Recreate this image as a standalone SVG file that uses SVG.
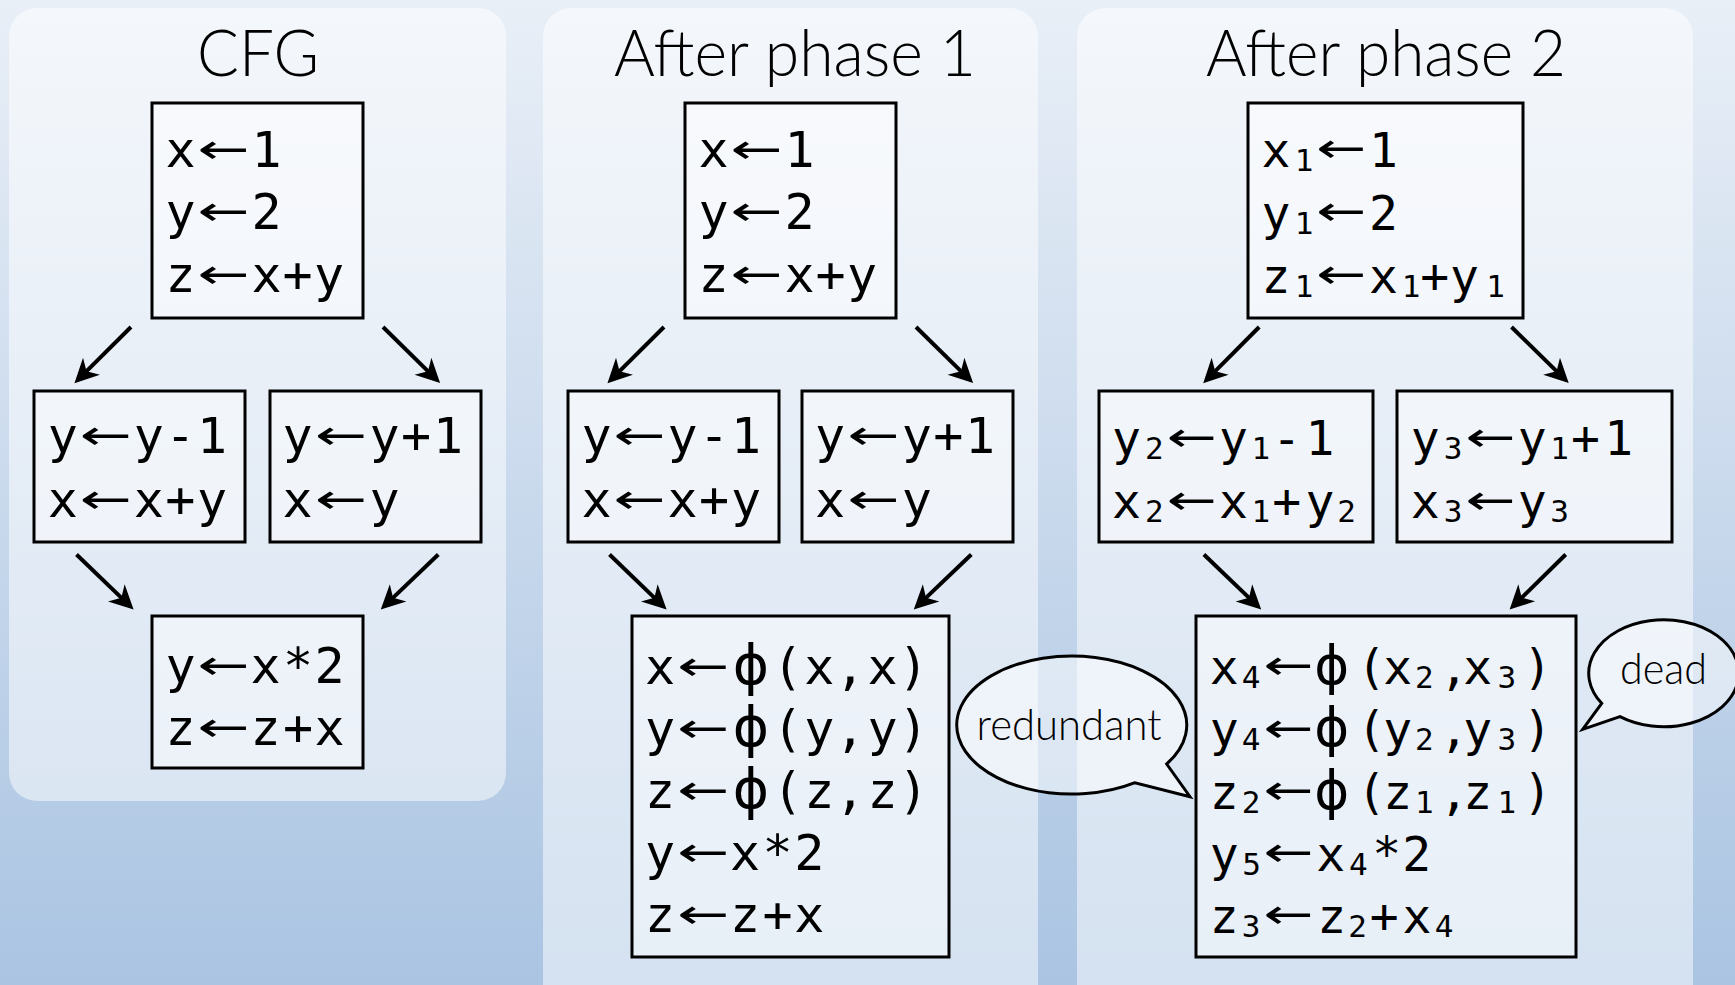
<svg xmlns="http://www.w3.org/2000/svg" width="1735" height="985" viewBox="0 0 1735 985">
<defs>
<linearGradient id="bg" x1="0" y1="0" x2="0" y2="1">
<stop offset="0" stop-color="#e9eff7"/>
<stop offset="1" stop-color="#aac4e2"/>
</linearGradient>
<marker id="ah" viewBox="-26 -14 28 28" refX="-15" refY="0" markerWidth="28" markerHeight="28" markerUnits="userSpaceOnUse" orient="auto">
<path d="M0,0 L-24,-12 L-17,0 L-24,12 Z" fill="#000"/>
</marker>
<style>
.panel{fill:#fff;fill-opacity:0.5}
.box{fill:#fff;fill-opacity:0.45;stroke:#000;stroke-width:3}
.bub{fill:#fff;fill-opacity:0.5;stroke:#000;stroke-width:3;stroke-linejoin:miter}
.title{font-family:Lato,"Open Sans",sans-serif;font-weight:300;font-size:66px;text-anchor:middle;fill:#000}
.note{font-family:Lato,"Open Sans",sans-serif;font-weight:300;font-size:44px;text-anchor:middle;fill:#000}
.c1{font-family:"DejaVu Sans Mono",monospace;font-size:50px;text-anchor:middle;fill:#000}
.c2{font-family:"DejaVu Sans Mono",monospace;font-size:48px;text-anchor:middle;fill:#000}
.sb{font-size:31px}
.ph{font-family:"DejaVu Sans",sans-serif;font-size:55px}
.ph2{font-family:"DejaVu Sans",sans-serif;font-size:53px}
.ar{font-family:"DejaVu Sans",sans-serif;font-size:41px}
.conn path{fill:none;stroke:#000;stroke-width:4;marker-end:url(#ah)}
</style>
</defs>
<rect x="0" y="0" width="1735" height="985" fill="url(#bg)"/>

<g id="panel-cfg">
<rect class="panel" x="9" y="8" width="497" height="793" rx="28"/>
<text class="title" x="258" y="76" textLength="122" lengthAdjust="spacingAndGlyphs">CFG</text>
</g>
<g id="panel-phase1">
<rect class="panel" x="543" y="8" width="495" height="1010" rx="28"/>
<text class="title" x="795" y="76" textLength="362" lengthAdjust="spacingAndGlyphs">After phase 1</text>
</g>
<g id="panel-phase2">
<rect class="panel" x="1077" y="8" width="616" height="1010" rx="28"/>
<text class="title" x="1386" y="76" textLength="360" lengthAdjust="spacingAndGlyphs">After phase 2</text>
</g>

<g class="conn" id="connectors">
<path d="M131,327 L85.1,372.6"/>
<path d="M383,327 L429.4,372.6"/>
<path d="M76.5,554.5 L122.8,599.1"/>
<path d="M438.3,554.5 L391.6,599.1"/>
<path d="M664,327 L618.1,372.6"/>
<path d="M916,327 L962.4,372.6"/>
<path d="M609.5,554.5 L655.8,599.1"/>
<path d="M971.3,554.5 L924.6,599.1"/>
<path d="M1259.2,327 L1213.8,372.6"/>
<path d="M1511.5,327 L1558,372.6"/>
<path d="M1203.9,554.5 L1250.4,599.1"/>
<path d="M1565.7,554.5 L1520.3,599.1"/>
</g>

<g id="cfg-entry">
<rect class="box" x="152" y="103" width="211" height="215"/>
<text class="c1"><tspan x="180.5" y="166.7">x</tspan><tspan class="ar" x="223.5" y="162.7" textLength="52" lengthAdjust="spacingAndGlyphs">←</tspan><tspan x="266.5" y="166.7">1</tspan></text>
<text class="c1"><tspan x="180.5" y="229.2">y</tspan><tspan class="ar" x="223.5" y="225.2" textLength="52" lengthAdjust="spacingAndGlyphs">←</tspan><tspan x="266.5" y="229.2">2</tspan></text>
<text class="c1"><tspan x="180.5" y="291.7">z</tspan><tspan class="ar" x="223.5" y="287.7" textLength="52" lengthAdjust="spacingAndGlyphs">←</tspan><tspan x="266.5 297.5 329" y="291.7">x+y</tspan></text>
</g>
<g id="cfg-left">
<rect class="box" x="34" y="391" width="211" height="151"/>
<text class="c1"><tspan x="62.8" y="453.3">y</tspan><tspan class="ar" x="105.8" y="449.3" textLength="52" lengthAdjust="spacingAndGlyphs">←</tspan><tspan x="148.8 180.3 212" y="453.3">y-1</tspan></text>
<text class="c1"><tspan x="62.8" y="516.7">x</tspan><tspan class="ar" x="105.8" y="512.7" textLength="52" lengthAdjust="spacingAndGlyphs">←</tspan><tspan x="148.8 180.3 212" y="516.7">x+y</tspan></text>
</g>
<g id="cfg-right">
<rect class="box" x="270" y="391" width="211" height="151"/>
<text class="c1"><tspan x="297.5" y="453.3">y</tspan><tspan class="ar" x="341" y="449.3" textLength="52" lengthAdjust="spacingAndGlyphs">←</tspan><tspan x="384.5 416 448" y="453.3">y+1</tspan></text>
<text class="c1"><tspan x="297.5" y="516.7">x</tspan><tspan class="ar" x="341" y="512.7" textLength="52" lengthAdjust="spacingAndGlyphs">←</tspan><tspan x="384.5" y="516.7">y</tspan></text>
</g>
<g id="cfg-join">
<rect class="box" x="152" y="616" width="211" height="152"/>
<text class="c1"><tspan x="180.5" y="683.3">y</tspan><tspan class="ar" x="223.5" y="679.3" textLength="52" lengthAdjust="spacingAndGlyphs">←</tspan><tspan x="265.5 298 329.5" y="683.3">x*2</tspan></text>
<text class="c1"><tspan x="180.5" y="745">z</tspan><tspan class="ar" x="223.5" y="741" textLength="52" lengthAdjust="spacingAndGlyphs">←</tspan><tspan x="265.5 298 329.5" y="745">z+x</tspan></text>
</g>

<g id="p1-entry">
<rect class="box" x="685" y="103" width="211" height="215"/>
<text class="c1"><tspan x="713.5" y="166.7">x</tspan><tspan class="ar" x="756.5" y="162.7" textLength="52" lengthAdjust="spacingAndGlyphs">←</tspan><tspan x="799.5" y="166.7">1</tspan></text>
<text class="c1"><tspan x="713.5" y="229.2">y</tspan><tspan class="ar" x="756.5" y="225.2" textLength="52" lengthAdjust="spacingAndGlyphs">←</tspan><tspan x="799.5" y="229.2">2</tspan></text>
<text class="c1"><tspan x="713.5" y="291.7">z</tspan><tspan class="ar" x="756.5" y="287.7" textLength="52" lengthAdjust="spacingAndGlyphs">←</tspan><tspan x="799.5 830.5 862" y="291.7">x+y</tspan></text>
</g>
<g id="p1-left">
<rect class="box" x="568" y="391" width="211" height="151"/>
<text class="c1"><tspan x="596.5" y="453.3">y</tspan><tspan class="ar" x="639.5" y="449.3" textLength="52" lengthAdjust="spacingAndGlyphs">←</tspan><tspan x="682.5 714 746" y="453.3">y-1</tspan></text>
<text class="c1"><tspan x="596.5" y="516.7">x</tspan><tspan class="ar" x="639.5" y="512.7" textLength="52" lengthAdjust="spacingAndGlyphs">←</tspan><tspan x="682.5 714 746" y="516.7">x+y</tspan></text>
</g>
<g id="p1-right">
<rect class="box" x="802" y="391" width="211" height="151"/>
<text class="c1"><tspan x="830" y="453.3">y</tspan><tspan class="ar" x="873.5" y="449.3" textLength="52" lengthAdjust="spacingAndGlyphs">←</tspan><tspan x="916.7 948.2 980" y="453.3">y+1</tspan></text>
<text class="c1"><tspan x="830" y="516.7">x</tspan><tspan class="ar" x="873.5" y="512.7" textLength="52" lengthAdjust="spacingAndGlyphs">←</tspan><tspan x="916.7" y="516.7">y</tspan></text>
</g>
<g id="p1-join">
<rect class="box" x="632" y="616" width="317" height="341"/>
<text class="c1"><tspan x="660" y="683.5">x</tspan><tspan class="ar" x="703.3" y="679.5" textLength="52" lengthAdjust="spacingAndGlyphs">←</tspan><tspan class="ph" x="750.8" y="683.5">ϕ</tspan><tspan x="787.5 819.2 850 882.5 913.3" y="683.5">(x,x)</tspan></text>
<text class="c1"><tspan x="660" y="745.5">y</tspan><tspan class="ar" x="703.3" y="741.5" textLength="52" lengthAdjust="spacingAndGlyphs">←</tspan><tspan class="ph" x="750.8" y="745.5">ϕ</tspan><tspan x="787.5 819.2 850 882.5 913.3" y="745.5">(y,y)</tspan></text>
<text class="c1"><tspan x="660" y="807.5">z</tspan><tspan class="ar" x="703.3" y="803.5" textLength="52" lengthAdjust="spacingAndGlyphs">←</tspan><tspan class="ph" x="750.8" y="807.5">ϕ</tspan><tspan x="787.5 819.2 850 882.5 913.3" y="807.5">(z,z)</tspan></text>
<text class="c1"><tspan x="660" y="869.5">y</tspan><tspan class="ar" x="703.3" y="865.5" textLength="52" lengthAdjust="spacingAndGlyphs">←</tspan><tspan x="745 777.5 809.2" y="869.5">x*2</tspan></text>
<text class="c1"><tspan x="660" y="931.5">z</tspan><tspan class="ar" x="703.3" y="927.5" textLength="52" lengthAdjust="spacingAndGlyphs">←</tspan><tspan x="745 777.5 809.2" y="931.5">z+x</tspan></text>
</g>

<g id="p2-entry">
<rect class="box" x="1248" y="103" width="275" height="215"/>
<text class="c2"><tspan x="1275.9" y="166.7">x</tspan><tspan class="sb" x="1304" y="170.7">1</tspan><tspan class="ar" x="1341.3" y="162.2" textLength="50" lengthAdjust="spacingAndGlyphs">←</tspan><tspan x="1383.5" y="166.7">1</tspan></text>
<text class="c2"><tspan x="1275.9" y="229.5">y</tspan><tspan class="sb" x="1304" y="233.5">1</tspan><tspan class="ar" x="1341.3" y="225" textLength="50" lengthAdjust="spacingAndGlyphs">←</tspan><tspan x="1383.5" y="229.5">2</tspan></text>
<text class="c2"><tspan x="1275.9" y="292.5">z</tspan><tspan class="sb" x="1304" y="296.5">1</tspan><tspan class="ar" x="1341.3" y="288" textLength="50" lengthAdjust="spacingAndGlyphs">←</tspan><tspan x="1383.5" y="292.5">x</tspan><tspan class="sb" x="1411" y="296.5">1</tspan><tspan x="1434.8" y="292.5">+</tspan><tspan x="1464.5" y="292.5">y</tspan><tspan class="sb" x="1495.5" y="296.5">1</tspan></text>
</g>
<g id="p2-left">
<rect class="box" x="1099" y="391" width="274" height="151"/>
<text class="c2"><tspan x="1126.5" y="455">y</tspan><tspan class="sb" x="1154.3" y="459">2</tspan><tspan class="ar" x="1191.7" y="450.5" textLength="50" lengthAdjust="spacingAndGlyphs">←</tspan><tspan x="1233.4" y="455">y</tspan><tspan class="sb" x="1260.8" y="459">1</tspan><tspan x="1286.7 1320" y="455">-1</tspan></text>
<text class="c2"><tspan x="1126.5" y="518.3">x</tspan><tspan class="sb" x="1154.3" y="522.3">2</tspan><tspan class="ar" x="1191.7" y="513.8" textLength="50" lengthAdjust="spacingAndGlyphs">←</tspan><tspan x="1233.4" y="518.3">x</tspan><tspan class="sb" x="1260.8" y="522.3">1</tspan><tspan x="1286.7 1320" y="518.3">+y</tspan><tspan class="sb" x="1346.7" y="522.3">2</tspan></text>
</g>
<g id="p2-right">
<rect class="box" x="1397" y="391" width="275" height="151"/>
<text class="c2"><tspan x="1425.2" y="455">y</tspan><tspan class="sb" x="1453" y="459">3</tspan><tspan class="ar" x="1490.4" y="450.5" textLength="50" lengthAdjust="spacingAndGlyphs">←</tspan><tspan x="1532.1" y="455">y</tspan><tspan class="sb" x="1559.5" y="459">1</tspan><tspan x="1585.4 1618.7" y="455">+1</tspan></text>
<text class="c2"><tspan x="1425.2" y="518.3">x</tspan><tspan class="sb" x="1453" y="522.3">3</tspan><tspan class="ar" x="1490.4" y="513.8" textLength="50" lengthAdjust="spacingAndGlyphs">←</tspan><tspan x="1532.1" y="518.3">y</tspan><tspan class="sb" x="1559.5" y="522.3">3</tspan></text>
</g>
<g id="p2-join">
<rect class="box" x="1196" y="616" width="380" height="341"/>
<text class="c2"><tspan x="1224.3" y="683.5">x</tspan><tspan class="sb" x="1251" y="687.5">4</tspan><tspan class="ar" x="1288.5" y="679" textLength="50" lengthAdjust="spacingAndGlyphs">←</tspan><tspan class="ph2" x="1331.8" y="683.5">ϕ</tspan><tspan x="1371.5 1397.6" y="683.5">(x</tspan><tspan class="sb" x="1424.3" y="687.5">2</tspan><tspan x="1454 1477.6" y="683.5">,x</tspan><tspan class="sb" x="1506.8" y="687.5">3</tspan><tspan x="1537.5" y="683.5">)</tspan></text>
<text class="c2"><tspan x="1224.3" y="746">y</tspan><tspan class="sb" x="1251" y="750">4</tspan><tspan class="ar" x="1288.5" y="741.5" textLength="50" lengthAdjust="spacingAndGlyphs">←</tspan><tspan class="ph2" x="1331.8" y="746">ϕ</tspan><tspan x="1371.5 1397.6" y="746">(y</tspan><tspan class="sb" x="1424.3" y="750">2</tspan><tspan x="1454 1477.6" y="746">,y</tspan><tspan class="sb" x="1506.8" y="750">3</tspan><tspan x="1537.5" y="746">)</tspan></text>
<text class="c2"><tspan x="1224.3" y="808.5">z</tspan><tspan class="sb" x="1251" y="812.5">2</tspan><tspan class="ar" x="1288.5" y="804" textLength="50" lengthAdjust="spacingAndGlyphs">←</tspan><tspan class="ph2" x="1331.8" y="808.5">ϕ</tspan><tspan x="1371.5 1397.6" y="808.5">(z</tspan><tspan class="sb" x="1424.3" y="812.5">1</tspan><tspan x="1454 1477.6" y="808.5">,z</tspan><tspan class="sb" x="1506.8" y="812.5">1</tspan><tspan x="1537.5" y="808.5">)</tspan></text>
<text class="c2"><tspan x="1224.3" y="870.5">y</tspan><tspan class="sb" x="1251.6" y="874.5">5</tspan><tspan class="ar" x="1288.5" y="866" textLength="50" lengthAdjust="spacingAndGlyphs">←</tspan><tspan x="1330.8" y="870.5">x</tspan><tspan class="sb" x="1358.3" y="874.5">4</tspan><tspan x="1386.7 1416.7" y="870.5">*2</tspan></text>
<text class="c2"><tspan x="1224.3" y="932.5">z</tspan><tspan class="sb" x="1251" y="936.5">3</tspan><tspan class="ar" x="1288.5" y="928" textLength="50" lengthAdjust="spacingAndGlyphs">←</tspan><tspan x="1331.7" y="932.5">z</tspan><tspan class="sb" x="1357.5" y="936.5">2</tspan><tspan x="1384.2 1417" y="932.5">+x</tspan><tspan class="sb" x="1444" y="936.5">4</tspan></text>
</g>

<g id="note-redundant">
<path class="bub" d="M1166.7,764 A115,69 0 1 0 1135,782.7 L1190,796.7 Z"/>
<text class="note" x="1069" y="740" textLength="185" lengthAdjust="spacingAndGlyphs">redundant</text>
</g>
<g id="note-dead">
<path class="bub" d="M1620,716.7 A75,53.5 0 1 0 1601.7,703.3 L1582.7,729.3 Z"/>
<text class="note" x="1663.5" y="684" textLength="87" lengthAdjust="spacingAndGlyphs">dead</text>
</g>
</svg>
